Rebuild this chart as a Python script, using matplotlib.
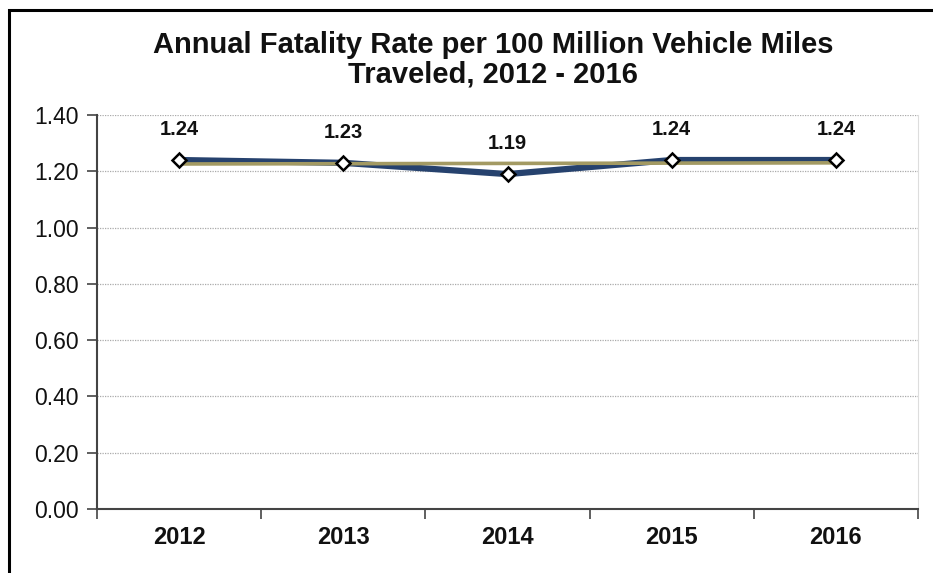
import matplotlib.pyplot as plt
from matplotlib.patches import Rectangle

plt.rcParams['font.family'] = ['Liberation Sans', 'DejaVu Sans']

years = ['2012', '2013', '2014', '2015', '2016']
rate = [1.24, 1.23, 1.19, 1.24, 1.24]
trend = [1.226, 1.227, 1.228, 1.229, 1.230]
yticks = [0.0, 0.2, 0.4, 0.6, 0.8, 1.0, 1.2, 1.4]

fig = plt.figure(figsize=(9.33, 5.73), dpi=100)
ax = fig.add_axes([97/933, 1-509/573, 821/933, 394/573])

x = list(range(len(years)))
ax.plot(x, rate, color='#26426E', lw=4.5, zorder=3, solid_joinstyle='miter')
ax.plot(x, trend, color='#A39A63', lw=2.6, zorder=4)
ax.plot(x, rate, ls='none', marker='D', ms=7.5, mfc='white', mec='black', mew=1.8, zorder=5)

for xi, v in zip(x, rate):
    ax.annotate(f'{v:.2f}', (xi, v), xytext=(0, 22), textcoords='offset points',
                ha='center', va='center', fontsize=14.5, fontweight='bold', color='#111111')

ax.set_ylim(0, 1.4)
ax.set_xlim(-0.5, len(years) - 0.5)
ax.set_yticks(yticks)
ax.set_yticklabels([f'{t:.2f}' for t in yticks], fontsize=16.5, color='#111111')
ax.set_xticks(x)
ax.set_xticklabels(years, fontsize=17, fontweight='bold', color='#111111')
ax.set_xticks([i - 0.5 for i in range(len(years) + 1)], minor=True)
ax.tick_params(axis='x', which='major', length=0, pad=12)
ax.tick_params(axis='x', which='minor', length=7, width=1.2, color='#444444', direction='out')
ax.tick_params(axis='y', length=7, width=1.2, color='#444444', direction='out', pad=6)

ax.grid(axis='y', ls=(0, (1, 1)), color='#AAAAAA', lw=0.9)
ax.set_axisbelow(True)
ax.spines['top'].set_visible(False)
ax.spines['right'].set_color('#DDDDDD')
ax.spines['left'].set_color('#444444')
ax.spines['bottom'].set_color('#444444')
ax.spines['left'].set_linewidth(1.5)
ax.spines['bottom'].set_linewidth(1.5)

fig.text(493/933, 1-60/573, 'Annual Fatality Rate per 100 Million Vehicle Miles\nTraveled, 2012 - 2016',
         ha='center', va='center', fontsize=21, fontweight='bold', color='#111111', linespacing=1.05)

fig.patches.append(Rectangle((9/933, -0.05), 1.0, 1.05 - 10/573, transform=fig.transFigure,
                             fill=False, ec='black', lw=2.2))

fig.savefig('out.png', dpi=100)
